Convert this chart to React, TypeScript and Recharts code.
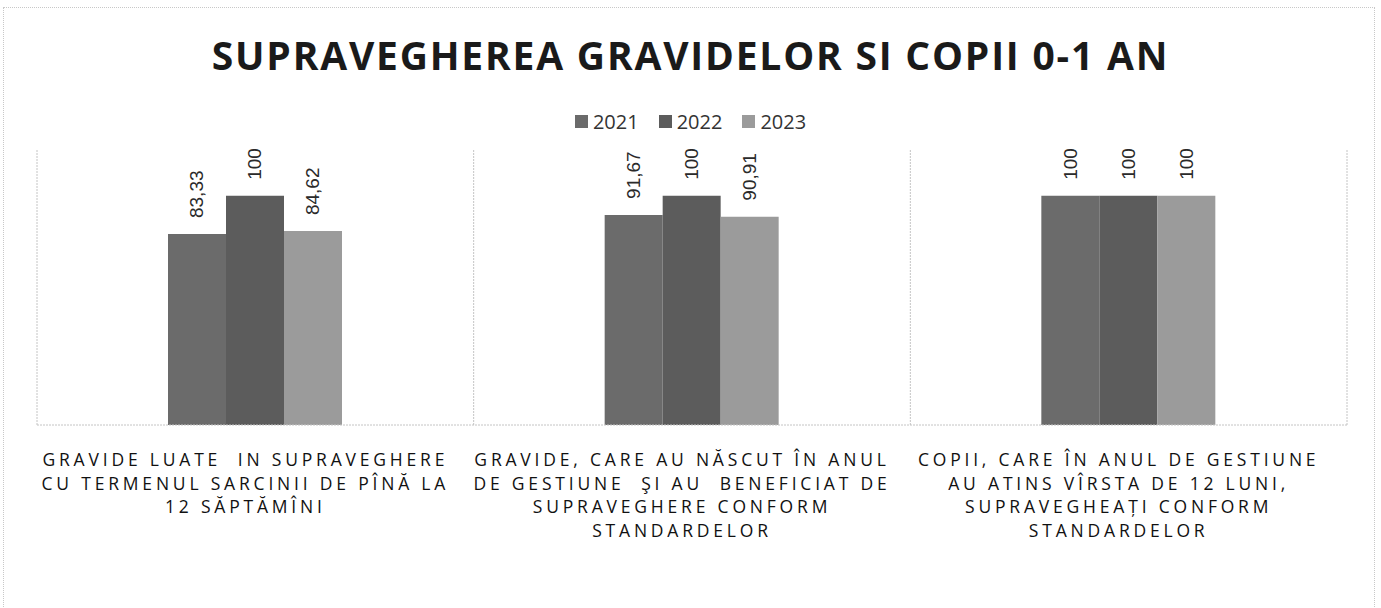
import React from "react";
import { BarChart, Bar, XAxis, YAxis, CartesianGrid, LabelList } from "recharts";

const categories = [
  ["GRAVIDE LUATE  IN SUPRAVEGHERE", "CU TERMENUL SARCINII DE PÎNĂ LA", "12 SĂPTĂMÎNI"],
  ["GRAVIDE, CARE AU NĂSCUT ÎN ANUL", "DE GESTIUNE  ŞI AU  BENEFICIAT DE", "SUPRAVEGHERE CONFORM", "STANDARDELOR"],
  ["COPII, CARE ÎN ANUL DE GESTIUNE", "AU ATINS VÎRSTA DE 12 LUNI,", "SUPRAVEGHEAȚI CONFORM", "STANDARDELOR"],
];
const values2021 = [83.33, 91.67, 100];
const values2022 = [100, 100, 100];
const values2023 = [84.62, 90.91, 100];

const SERIES = [
  { key: "y2021", name: "2021", color: "#6b6b6b" },
  { key: "y2022", name: "2022", color: "#5c5c5c" },
  { key: "y2023", name: "2023", color: "#9b9b9b" },
];

const data = categories.map((lines, i) => ({
  name: lines.join(" "),
  lines,
  y2021: values2021[i],
  y2022: values2022[i],
  y2023: values2023[i],
}));

const fmt = (v: number) => String(v).replace(".", ",");

const CategoryTick = (props: any) => {
  const { x, y, payload, index } = props;
  const lines = data[index]?.lines ?? [payload.value];
  return (
    <g transform={`translate(${x},${y})`}>
      {lines.map((l: string, i: number) => (
        <text
          key={i}
          x={-10}
          y={33 + i * 23.5}
          textAnchor="middle"
          fill="#111"
          fontSize={17.5}
          fontFamily="'Open Sans', sans-serif"
          style={{ letterSpacing: "3.8px", whiteSpace: "pre" }}
        >
          {l}
        </text>
      ))}
    </g>
  );
};

const RotatedLabel = (props: any) => {
  const { x, y, width, value } = props;
  const cx = x + width / 2;
  const ty = y - 16;
  return (
    <text
      x={cx}
      y={ty}
      transform={`rotate(-90 ${cx} ${ty})`}
      textAnchor="start"
      dominantBaseline="central"
      fontSize={19}
      fill="#2a2a2a"
      fontFamily="'Liberation Sans', Arial, sans-serif"
    >
      {fmt(value)}
    </text>
  );
};

const LegendBlock = () => (
  <div
    style={{
      position: "absolute",
      left: 0,
      top: 108,
      width: 1381,
      display: "flex",
      justifyContent: "center",
      gap: 20,
      fontFamily: "'Open Sans', sans-serif",
      fontSize: 20,
      color: "#333",
    }}
  >
    {SERIES.map((s) => (
      <span key={s.key} style={{ display: "flex", alignItems: "center", gap: 5 }}>
        <span style={{ width: 13, height: 13, background: s.color, display: "inline-block" }} />
        {s.name}
      </span>
    ))}
  </div>
);

export default function App() {
  return (
    <div style={{ position: "absolute", left: 0, top: 0, width: 1381, height: 608, background: "#fff" }}>
      <div
        style={{
          position: "absolute",
          left: 3,
          top: 7,
          width: 1372,
          height: 610,
          border: "1px dotted #c8c8c8",
          boxSizing: "border-box",
        }}
      />
      <div
        style={{
          position: "absolute",
          left: 0,
          top: 28,
          width: 1381,
          textAlign: "center",
          fontFamily: "'Open Sans', sans-serif",
          fontWeight: 700,
          fontSize: 39,
          letterSpacing: "1.8px",
          color: "#1a1a1a",
        }}
      >
        SUPRAVEGHEREA GRAVIDELOR SI COPII 0-1 AN
      </div>
      <LegendBlock />
      <BarChart
        width={1381}
        height={608}
        data={data}
        margin={{ top: 150, left: 37, right: 34, bottom: 153 }}
        barCategoryGap="30%"
        barGap={0}
        style={{ position: "absolute", left: 0, top: 0 }}
      >
        <CartesianGrid
          horizontal={false}
          stroke="#c4c4c4"
          strokeDasharray="2 1"
          verticalCoordinatesGenerator={({ offset }: any) => [
            offset.left,
            offset.left + offset.width / 3,
            offset.left + (2 * offset.width) / 3,
            offset.left + offset.width,
          ]}
        />
        <XAxis
          dataKey="name"
          height={30}
          axisLine={{ stroke: "#c4c4c4", strokeDasharray: "2 1" }}
          tickLine={false}
          interval={0}
          tick={<CategoryTick />}
        />
        <YAxis hide domain={[0, 120]} />
        {SERIES.map((s) => (
          <Bar key={s.key} dataKey={s.key} name={s.name} fill={s.color} isAnimationActive={false}>
            <LabelList dataKey={s.key} content={<RotatedLabel />} />
          </Bar>
        ))}
      </BarChart>
    </div>
  );
}
